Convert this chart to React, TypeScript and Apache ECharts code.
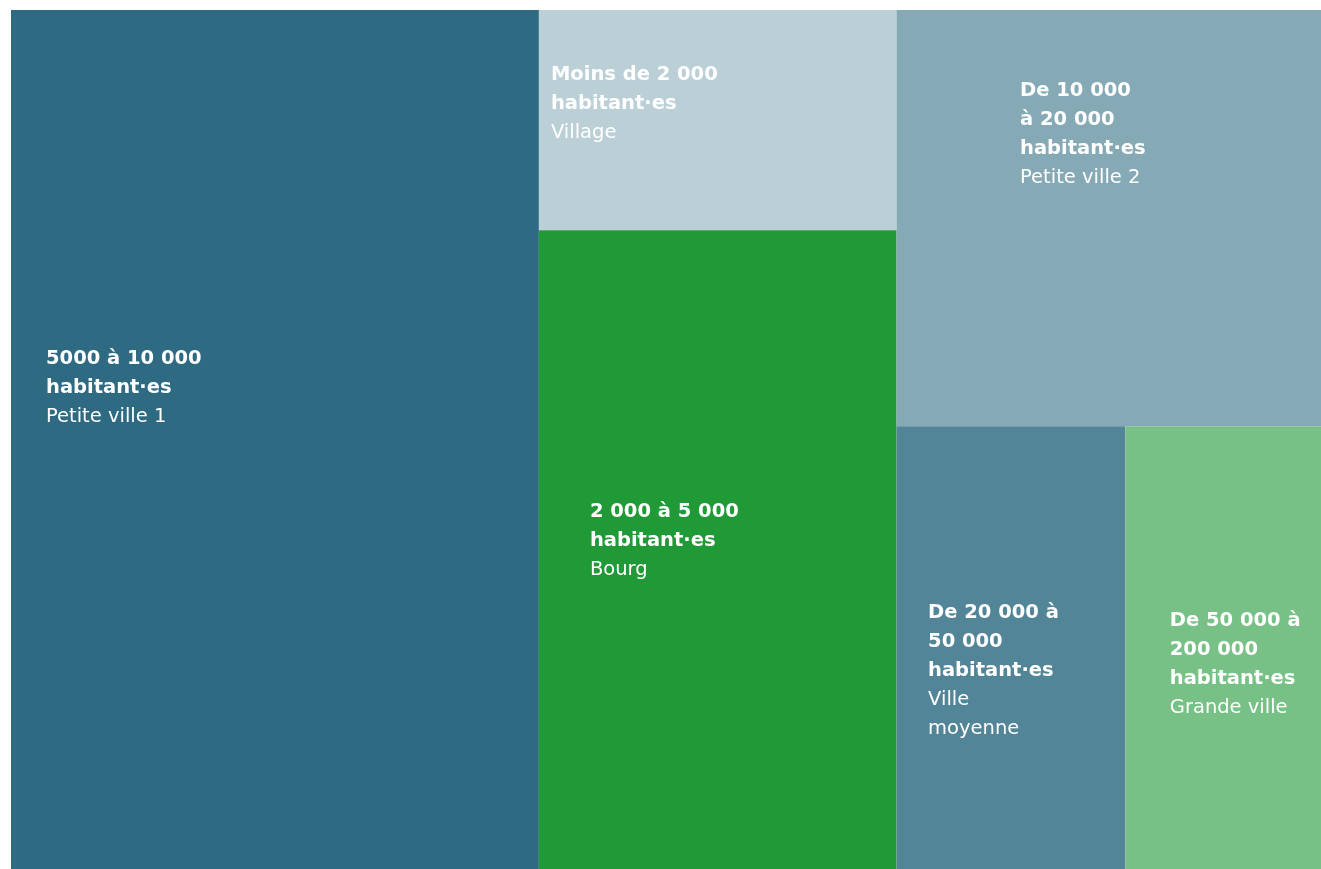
import React, { useEffect, useRef } from "react";
import * as echarts from "echarts";

// ---- data ----
const categories = [
  "5000 à 10 000 habitant·es",
  "Moins de 2 000 habitant·es",
  "2 000 à 5 000 habitant·es",
  "De 10 000 à 20 000 habitant·es",
  "De 20 000 à 50 000 habitant·es",
  "De 50 000 à 200 000 habitant·es",
];
const titleLines = [
  ["5000 à 10 000", "habitant·es"],
  ["Moins de 2 000", "habitant·es"],
  ["2 000 à 5 000", "habitant·es"],
  ["De 10 000", "à 20 000", "habitant·es"],
  ["De 20 000 à", "50 000", "habitant·es"],
  ["De 50 000 à", "200 000", "habitant·es"],
];
const subtitleLines = [
  ["Petite ville 1"],
  ["Village"],
  ["Bourg"],
  ["Petite ville 2"],
  ["Ville", "moyenne"],
  ["Grande ville"],
];
const values = [40.3, 7.0, 20.3, 15.7, 9.0, 7.7];
// column grouping of the treemap
const columns = [[0], [1, 2], [3, 4, 5]];

// ---- styles ----
const colors = ["#2e6a82", "#bacfd6", "#209a37", "#86aab5", "#528597", "#77c186"];
const labelOffsets = [
  [35, 332.5],
  [12, 49],
  [51, 266],
  [123.5, 65],
  [31.5, 171],
  [44.5, 179],
];

function leaf(i: number) {
  const text =
    titleLines[i].map((l) => `{t|${l}}`).join("\n") +
    "\n" +
    subtitleLines[i].map((l) => `{s|${l}}`).join("\n");
  return {
    name: categories[i],
    value: values[i],
    itemStyle: { color: colors[i], borderWidth: 0, gapWidth: 0 },
    label: {
      show: true,
      position: labelOffsets[i],
      align: "left",
      verticalAlign: "top",
      formatter: text,
    },
  };
}

export default function App() {
  const ref = useRef<HTMLDivElement>(null);
  useEffect(() => {
    if (!ref.current) return;
    const chart = echarts.init(ref.current, null, { renderer: "svg" });
    const data = columns.map((c, ci) =>
      c.length === 1
        ? leaf(c[0])
        : {
            name: "col" + ci,
            itemStyle: { borderWidth: 0, gapWidth: 0 },
            children: c.map(leaf),
          }
    );
    chart.setOption({
      animation: false,
      series: [
        {
          type: "treemap",
          left: 11,
          top: 10,
          right: 0,
          bottom: 0,
          sort: false,
          squareRatio: 1.19,
          roam: false,
          nodeClick: false,
          breadcrumb: { show: false },
          visibleMin: 0,
          itemStyle: { borderWidth: 0, gapWidth: 0 },
          upperLabel: { show: false },
          emphasis: { disabled: true },
          label: {
            show: true,
            padding: 0,
            overflow: "none",
            color: "#fff",
            fontFamily: "DejaVu Sans",
            rich: {
              t: {
                fontFamily: "DejaVu Sans",
                fontWeight: "bold",
                fontSize: 19.5,
                lineHeight: 29,
                color: "#fff",
              },
              s: {
                fontFamily: "DejaVu Sans",
                fontWeight: "normal",
                fontSize: 19.5,
                lineHeight: 29,
                color: "#fff",
              },
            },
          },
          data,
        },
      ],
    });
    return () => chart.dispose();
  }, []);
  return (
    <div
      ref={ref}
      style={{ position: "fixed", left: 0, top: 0, width: 1321, height: 869 }}
    />
  );
}
